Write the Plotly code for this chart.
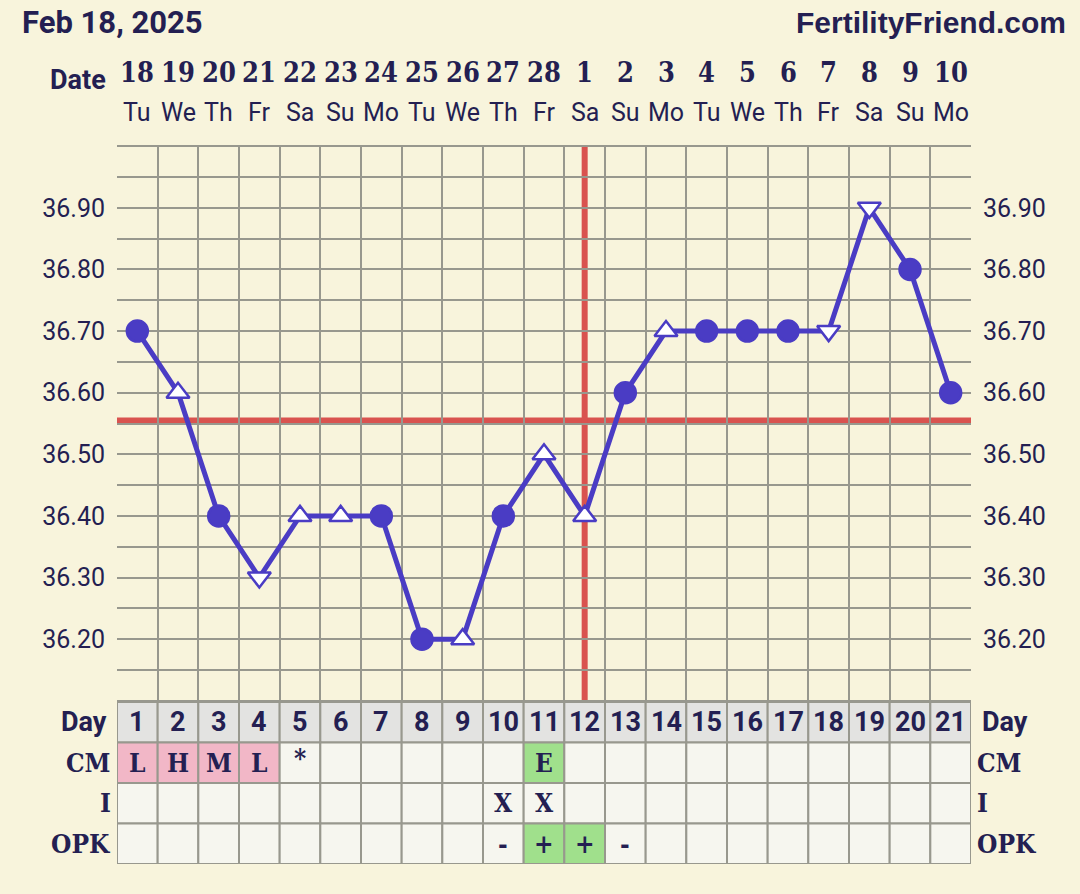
import plotly.graph_objects as go

# ---------------- data ----------------
cycle_days = list(range(1, 22))
dates = ["18", "19", "20", "21", "22", "23", "24", "25", "26", "27", "28",
         "1", "2", "3", "4", "5", "6", "7", "8", "9", "10"]
weekdays = ["Tu", "We", "Th", "Fr", "Sa", "Su", "Mo", "Tu", "We", "Th", "Fr",
            "Sa", "Su", "Mo", "Tu", "We", "Th", "Fr", "Sa", "Su", "Mo"]
temps = [36.70, 36.60, 36.40, 36.30, 36.40, 36.40, 36.40, 36.20, 36.20, 36.40, 36.50,
         36.40, 36.60, 36.70, 36.70, 36.70, 36.70, 36.70, 36.90, 36.80, 36.60]
temp_marks = ["dot", "up", "dot", "down", "up", "up", "dot", "dot", "up", "dot", "up",
              "up", "dot", "up", "dot", "dot", "dot", "down", "down", "dot", "dot"]
cm = ["L", "H", "M", "L", "*", "", "", "", "", "", "E",
      "", "", "", "", "", "", "", "", "", ""]
intercourse = ["", "", "", "", "", "", "", "", "", "X", "X",
               "", "", "", "", "", "", "", "", "", ""]
opk = ["", "", "", "", "", "", "", "", "", "-", "+",
       "+", "-", "", "", "", "", "", "", "", ""]
temp_labels = [36.20, 36.30, 36.40, 36.50, 36.60, 36.70, 36.80, 36.90]
coverline = 36.555
ovulation_day = 12
chart_date = "Feb 18, 2025"
site = "FertilityFriend.com"

# ---------------- styles ----------------
BG = "#f8f4dc"
NAVY = "#241f52"
GRID = "#98988e"
PURPLE = "#4a3cc4"
RED = "#d9534f"
PINK = "#f2b7c7"
GREEN = "#a0e08c"
CELL = "#f6f6ef"
DAYROW = "#e3e3e1"
SANS = "Roboto, Liberation Sans, sans-serif"
SLAB = "DejaVu Serif Condensed, DejaVu Serif, serif"

sym_map = {"dot": "circle", "up": "triangle-up", "down": "triangle-down"}
symbols = [sym_map[m] for m in temp_marks]
fills = [PURPLE if m == "dot" else "white" for m in temp_marks]
sizes = [21 if m == "dot" else 20 for m in temp_marks]

fig = go.Figure()
fig.add_trace(go.Scatter(
    x=cycle_days, y=temps, mode="lines+markers",
    line=dict(color=PURPLE, width=5),
    marker=dict(symbol=symbols, color=fills, size=sizes, opacity=1,
                line=dict(color=PURPLE, width=2.5)),
    opacity=1,
    hoverinfo="x+y", showlegend=False, xaxis="x", yaxis="y", cliponaxis=False,
))
# invisible traces to set label axes
fig.add_trace(go.Scatter(x=[cycle_days[0]], y=[temps[0]], mode="markers",
                         marker=dict(opacity=0), showlegend=False,
                         hoverinfo="skip", xaxis="x", yaxis="y3"))
fig.add_trace(go.Scatter(x=[cycle_days[0]], y=[temps[0]], mode="markers",
                         marker=dict(opacity=0), showlegend=False,
                         hoverinfo="skip", xaxis="x", yaxis="y4"))

T_LO, T_HI = 36.098, 37.002
split = (864 - 702) / 719

shapes = []
annotations = []

# coverline & ovulation line
shapes.append(dict(type="line", xref="x", yref="y", x0=0.5, x1=21.5,
                   y0=coverline, y1=coverline, line=dict(color=RED, width=6),
                   layer="below"))
shapes.append(dict(type="line", xref="x", yref="y", x0=ovulation_day, x1=ovulation_day,
                   y0=T_LO, y1=T_HI, line=dict(color=RED, width=6), layer="below"))

# table
rows = [("Day", 3, [str(d) for d in cycle_days]),
        ("CM", 2, cm), ("I", 1, intercourse), ("OPK", 0, opk)]
for name, r, vals in rows:
    for d, v in zip(cycle_days, vals):
        if name == "Day":
            fill = DAYROW
        elif name == "CM" and v in ("L", "H", "M"):
            fill = PINK
        elif (name == "CM" and v == "E") or (name == "OPK" and v == "+"):
            fill = GREEN
        else:
            fill = CELL
        shapes.append(dict(type="rect", xref="x", yref="y2", x0=d - 0.5, x1=d + 0.5,
                           y0=r, y1=r + 1, fillcolor=fill,
                           line=dict(color=GRID, width=2), layer="above"))
        if v:
            if name == "Day":
                f = dict(family=SANS, size=27, color=NAVY, weight="bold")
            else:
                f = dict(family=SLAB, size=26, color=NAVY, weight="bold")
            annotations.append(dict(x=d, y=r + 0.5 + (0.12 if v == "*" else 0),
                                    xref="x", yref="y2", text=v, showarrow=False,
                                    font=f, xanchor="center", yanchor="middle"))
    lf = dict(family=SANS if name == "Day" else SLAB, size=27 if name == "Day" else 26,
              color=NAVY, weight="bold")
    annotations.append(dict(x=0, y=r + 0.5, xref="paper", yref="y2", text=name,
                            showarrow=False, font=lf, xanchor="right", yanchor="middle",
                            xshift=-8 if name == "Day" else -4))
    annotations.append(dict(x=1, y=r + 0.5, xref="paper", yref="y2", text=name,
                            showarrow=False, font=lf, xanchor="left", yanchor="middle",
                            xshift=9 if name == "Day" else 4))

# dates header
for d, dt, wd in zip(cycle_days, dates, weekdays):
    annotations.append(dict(x=d, y=(864 - 73) / 719, xref="x", yref="paper", text=dt,
                            showarrow=False, xanchor="center", yanchor="middle",
                            font=dict(family=SLAB, size=27, color=NAVY, weight="bold")))
    annotations.append(dict(x=d, y=(864 - 112) / 719, xref="x", yref="paper", text=wd,
                            showarrow=False, xanchor="center", yanchor="middle",
                            font=dict(family=SANS, size=25, color=NAVY)))
annotations.append(dict(x=0, y=(864 - 80) / 719, xref="paper", yref="paper", text="Date",
                        showarrow=False, xanchor="right", yanchor="middle", xshift=-9,
                        font=dict(family=SANS, size=27, color=NAVY, weight="bold")))
annotations.append(dict(x=(20 - 117) / 854, y=(864 - 22) / 719, xref="paper", yref="paper",
                        text=chart_date, showarrow=False, xanchor="left", yanchor="middle",
                        font=dict(family="Roboto, Liberation Sans, sans-serif", size=31,
                                  color=NAVY, weight="bold")))
annotations.append(dict(x=(1068 - 117) / 854, y=(864 - 22) / 719, xref="paper", yref="paper",
                        text=site, showarrow=False, xanchor="right", yanchor="middle",
                        font=dict(family="Liberation Sans, Arial, sans-serif", size=30,
                                  color=NAVY, weight="bold")))

label_font = dict(family=SANS, size=25, color=NAVY)
fig.update_layout(
    width=1080, height=894,
    margin=dict(l=117, r=109, t=145, b=30),
    paper_bgcolor=BG, plot_bgcolor=BG,
    xaxis=dict(range=[0.5, 21.5], tick0=0.5, dtick=1, showgrid=True, gridcolor=GRID,
               gridwidth=2, showticklabels=False, zeroline=False, showline=False,
               ticks="", anchor="y", fixedrange=True),
    yaxis=dict(domain=[split, 1], range=[T_LO, T_HI], tick0=36.10, dtick=0.05,
               showgrid=True, gridcolor=GRID, gridwidth=2, showticklabels=False,
               zeroline=False, ticks="", anchor="x"),
    yaxis2=dict(domain=[0, split], range=[0, 4], showgrid=False, showticklabels=False,
                zeroline=False, ticks="", anchor="x"),
    yaxis3=dict(overlaying="y", side="left", range=[T_LO, T_HI], tickvals=temp_labels,
                ticktext=[f"{v:.2f}" for v in temp_labels], showgrid=False,
                zeroline=False, ticks="", tickfont=label_font, ticklabelstandoff=11,
                anchor="x"),
    yaxis4=dict(overlaying="y", side="right", range=[T_LO, T_HI], tickvals=temp_labels,
                ticktext=[f"{v:.2f}" for v in temp_labels], showgrid=False,
                zeroline=False, ticks="", tickfont=label_font, ticklabelstandoff=11,
                anchor="x"),
    shapes=shapes, annotations=annotations,
)

fig.write_html("out.html", config={"displayModeBar": False},
               post_script="document.body.style.margin='0';"
                           "document.body.style.background='" + BG + "';")
